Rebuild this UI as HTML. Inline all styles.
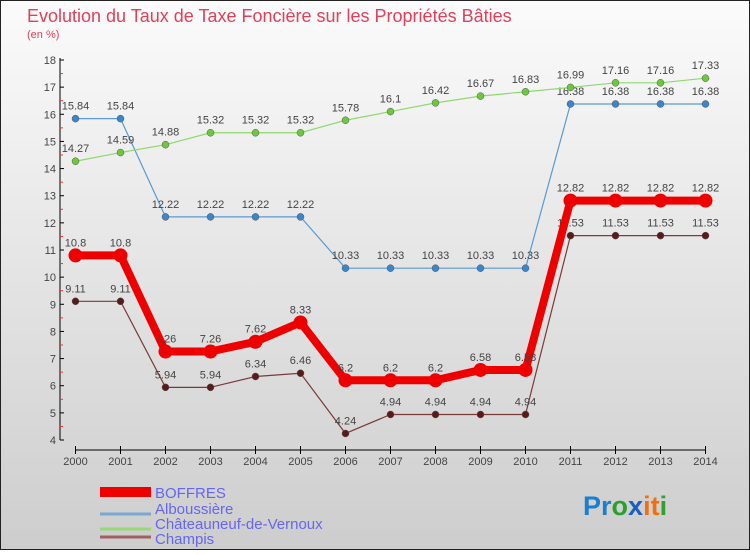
<!DOCTYPE html>
<html><head><meta charset="utf-8"><style>
body{margin:0;width:750px;height:550px;overflow:hidden;font-family:"Liberation Sans",sans-serif}
svg text{font-family:"Liberation Sans",sans-serif}
</style></head><body>
<svg id="c" width="750" height="550" xmlns="http://www.w3.org/2000/svg">
<defs><linearGradient id="bg" x1="0" y1="0" x2="0" y2="1"><stop offset="0" stop-color="#fbfbfb"/><stop offset="1" stop-color="#cdcdcd"/></linearGradient></defs>
<rect x="0.5" y="0.5" width="749" height="549" fill="url(#bg)" stroke="#222"/>
<text x="27" y="22" font-size="18" fill="#e0405a">Evolution du Taux de Taxe Foncière sur les Propriétés Bâties</text>
<text x="27" y="38" font-size="11" fill="#e0405a">(en %)</text>
<g id="axes"></g><g id="series"></g>
<g>
<rect x="100" y="487" width="51" height="10" fill="#e00"/>
<text x="155" y="498" font-size="15" fill="#6666ee">BOFFRES</text>
<line x1="100" y1="514" x2="151" y2="514" stroke="#7aa8d0" stroke-width="3"/>
<text x="155" y="514" font-size="15" fill="#6666ee">Alboussière</text>
<line x1="100" y1="529" x2="151" y2="529" stroke="#98d878" stroke-width="3"/>
<text x="155" y="529" font-size="15" fill="#6666ee">Châteauneuf-de-Vernoux</text>
<line x1="100" y1="537" x2="151" y2="537" stroke="#a06060" stroke-width="3"/>
<text x="155" y="544" font-size="15" fill="#6666ee">Champis</text>
</g>
<text x="583" y="515" font-size="27" font-weight="bold"><tspan fill="#1a7fd0">Pr</tspan><tspan fill="#2aa02a">o</tspan><tspan fill="#1a5fc0">x</tspan><tspan fill="#f07010">it</tspan><tspan fill="#30a030">i</tspan></text>
</svg>
<script>
const years=[2000,2001,2002,2003,2004,2005,2006,2007,2008,2009,2010,2011,2012,2013,2014];
const boffres=[10.8,10.8,7.26,7.26,7.62,8.33,6.2,6.2,6.2,6.58,6.58,12.82,12.82,12.82,12.82];
const alboussiere=[15.84,15.84,12.22,12.22,12.22,12.22,10.33,10.33,10.33,10.33,10.33,16.38,16.38,16.38,16.38];
const chateauneuf=[14.27,14.59,14.88,15.32,15.32,15.32,15.78,16.1,16.42,16.67,16.83,16.99,17.16,17.16,17.33];
const champis=[9.11,9.11,5.94,5.94,6.34,6.46,4.24,4.94,4.94,4.94,4.94,11.53,11.53,11.53,11.53];
const yTicks=[4,5,6,7,8,9,10,11,12,13,14,15,16,17,18];
const NS="http://www.w3.org/2000/svg";
const X=i=>75.5+i*(705.5-75.5)/(years.length-1);
const Y=v=>440-(v-4)*(380/14);
function mk(t,a,p){const e=document.createElementNS(NS,t);for(const k in a)e.setAttribute(k,a[k]);p.appendChild(e);return e;}
const ax=document.getElementById('axes');
const yl=mk('line',{x1:60,y1:58,x2:60,y2:440,stroke:'#000'},ax);


yTicks.forEach(v=>{
 mk('line',{x1:60,x2:64,y1:Y(v),y2:Y(v),stroke:'#000'},ax);
 if(v<18)mk('line',{x1:60,x2:63,y1:Y(v+0.5),y2:Y(v+0.5),stroke:'#e33'},ax);
 const t=mk('text',{x:56,y:Y(v)+4,'font-size':11,fill:'#444','text-anchor':'end'},ax);t.textContent=v;
 
 
});
const xl=mk('line',{x1:75.5,y1:450,x2:705.5,y2:450,stroke:'#000'},ax);


years.forEach((y,i)=>{
 mk('line',{x1:X(i),x2:X(i),y1:446,y2:454,stroke:'#000'},ax);
 const t=mk('text',{x:X(i),y:465,'font-size':11,fill:'#444','text-anchor':'middle'},ax);t.textContent=y;
 
 
});
const sg=document.getElementById('series');
function series(d,name,col,dot,w,r){
 const g=mk('g',{},sg);
 
 
 const l=mk('polyline',{points:d.map((v,i)=>X(i)+','+Y(v)).join(' '),fill:'none',stroke:col,'stroke-width':w,'stroke-linejoin':'round'},g);
 
 
 d.forEach((v,i)=>{
  const c=mk('circle',{cx:X(i),cy:Y(v),r:r,fill:dot,stroke:w>3?'none':'#555','stroke-width':0.5},g);
  
  
  const t=mk('text',{x:X(i),y:Y(v)-9,'font-size':11,fill:'#444','text-anchor':'middle'},g);t.textContent=v;
  
  
 });
}
series(alboussiere,'alboussiere','#5a9ad0','#3a86c8',1.2,3.5);
series(chateauneuf,'chateauneuf','#8fd870','#6cc83c',1.2,3.5);
series(champis,'champis','#7a3a3a','#5a1a1a',1.2,3.5);
series(boffres,'boffres','#ee0000','#ee0000',8,7);
</script>
</body></html>
